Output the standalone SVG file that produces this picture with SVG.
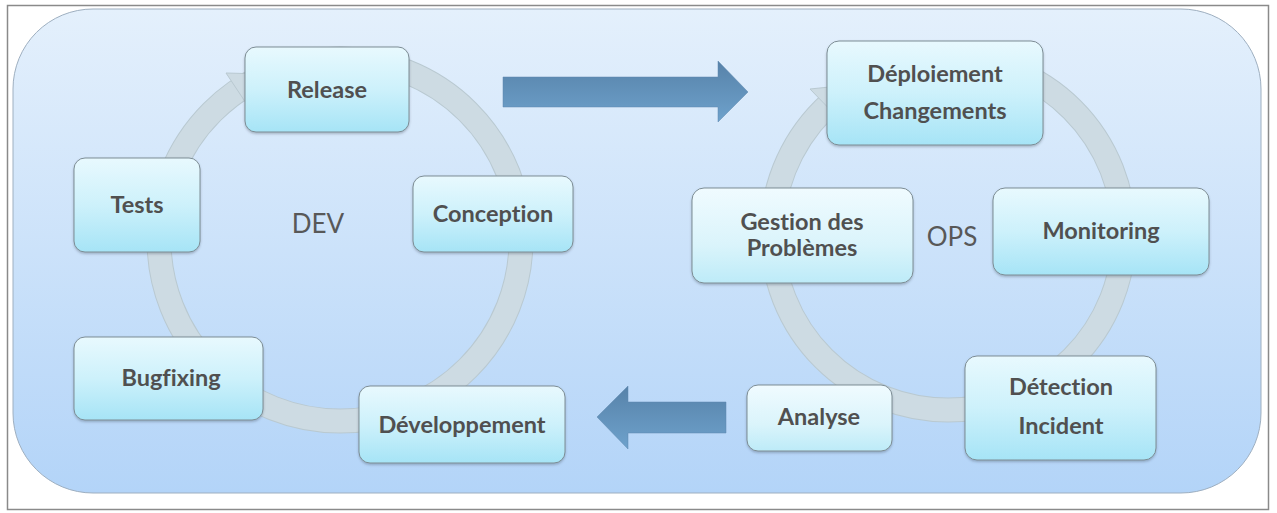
<svg xmlns="http://www.w3.org/2000/svg" width="1277" height="513" viewBox="0 0 1277 513">
<defs>
<linearGradient id="bg" x1="0" y1="0" x2="0" y2="1">
<stop offset="0" stop-color="#e4f0fc"/>
<stop offset="1" stop-color="#b3d4f8"/>
</linearGradient>
<linearGradient id="box" x1="0" y1="0" x2="0" y2="1">
<stop offset="0" stop-color="#e8f9fe"/>
<stop offset="0.5" stop-color="#cdf1fb"/>
<stop offset="1" stop-color="#a6e4f6"/>
</linearGradient>
<linearGradient id="boxl" x1="0" y1="0" x2="0" y2="1">
<stop offset="0" stop-color="#f0fbff"/>
<stop offset="0.6" stop-color="#daf4fb"/>
<stop offset="1" stop-color="#bdebf8"/>
</linearGradient>
<linearGradient id="arr" x1="0" y1="0" x2="0" y2="1">
<stop offset="0" stop-color="#5782a9"/>
<stop offset="1" stop-color="#6ea2cc"/>
</linearGradient>
<filter id="sh" x="-10%" y="-10%" width="120%" height="130%">
<feDropShadow dx="0" dy="1.5" stdDeviation="1.2" flood-color="#405060" flood-opacity="0.35"/>
</filter>
</defs>
<style>
.node rect{stroke:#7d8d95;stroke-width:1;filter:url(#sh)}
.node text{font-family:Lato,"Liberation Sans",sans-serif;font-weight:bold;font-size:23.5px;fill:#505050;text-anchor:middle;font-variant-ligatures:none}
.big{font-family:Lato,"Liberation Sans",sans-serif;font-size:26px;fill:#585858;text-anchor:middle}
.ringo{fill:none;stroke:#b9c9d1;stroke-width:25}
.ringi{fill:none;stroke:#cddbe3;stroke-width:23}
.head{fill:#cddbe3;stroke:#b9c9d1;stroke-width:1}
.bigarrow{fill:url(#arr);stroke:#5c86ad;stroke-width:0.5}
</style>
<rect x="7.5" y="5.5" width="1261" height="504" fill="#ffffff" stroke="#8a8a8a" stroke-width="1.5"/>
<rect x="13" y="9" width="1248" height="484" rx="80" ry="80" fill="url(#bg)" stroke="#9eafc0" stroke-width="1"/>

<g id="connectors">
<circle class="ringo" cx="340" cy="240" r="181"/>
<circle class="ringi" cx="340" cy="240" r="181"/>
<polygon class="head" points="226,73 263,74 250,109"/>
<circle class="ringo" cx="948" cy="234" r="176"/>
<circle class="ringi" cx="948" cy="234" r="176"/>
<polygon class="head" points="810,89 849,85 842,122"/>
<polygon class="bigarrow" points="503,77 718,77 718,61 748,92 718,122 718,107 503,107"/>
<polygon class="bigarrow" points="726,402 628,402 628,386 597,417 628,449 628,433 726,433"/>
</g>

<text class="big" x="318" y="233">DEV</text>
<text class="big" x="952" y="246">OPS</text>

<g id="release" class="node"><rect x="245" y="47" width="164" height="85" rx="11" fill="url(#box)"/><text x="327" y="98">Release</text></g>
<g id="conception" class="node"><rect x="413" y="176" width="160" height="76" rx="11" fill="url(#box)"/><text x="493" y="222">Conception</text></g>
<g id="tests" class="node"><rect x="74" y="158" width="126" height="94" rx="11" fill="url(#box)"/><text x="137" y="213">Tests</text></g>
<g id="bugfixing" class="node"><rect x="74" y="337" width="189" height="83" rx="11" fill="url(#box)"/><text x="171" y="386">Bugfixing</text></g>
<g id="developpement" class="node"><rect x="359" y="386" width="206" height="77" rx="11" fill="url(#box)"/><text x="462" y="433">Développement</text></g>
<g id="deploiement" class="node"><rect x="827" y="41" width="216" height="104" rx="12" fill="url(#box)"/><text x="935" y="82">Déploiement</text><text x="935" y="119">Changements</text></g>
<g id="monitoring" class="node"><rect x="993" y="188" width="216" height="87" rx="12" fill="url(#box)"/><text x="1101" y="239">Monitoring</text></g>
<g id="gestion" class="node"><rect x="692" y="188" width="221" height="95" rx="12" fill="url(#boxl)"/><text x="802" y="230">Gestion des</text><text x="802" y="256">Problèmes</text></g>
<g id="analyse" class="node"><rect x="747" y="385" width="145" height="66" rx="11" fill="url(#boxl)"/><text x="819" y="425">Analyse</text></g>
<g id="detection" class="node"><rect x="965" y="356" width="191" height="104" rx="12" fill="url(#box)"/><text x="1061" y="395">Détection</text><text x="1061" y="434">Incident</text></g>
</svg>
